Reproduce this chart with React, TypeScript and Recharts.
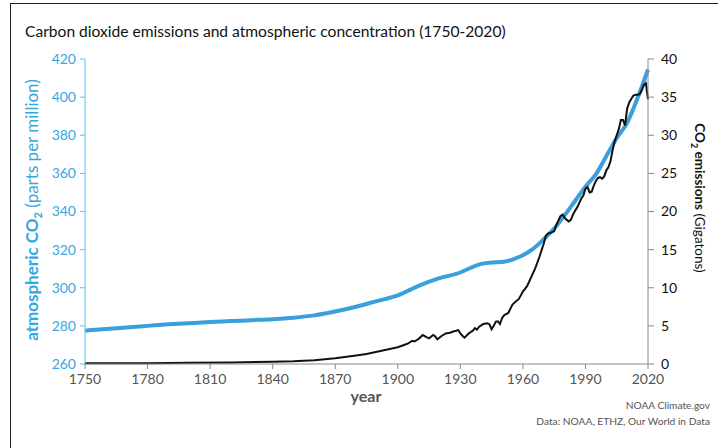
import { LineChart, Line, XAxis, YAxis } from "recharts";

const FONT = "Lato, 'DejaVu Sans', sans-serif";

// atmospheric CO2 (ppm)
const co2Years = [
  1750, 1760, 1770, 1780, 1790, 1800, 1810, 1820, 1830, 1840, 1850, 1860, 1870, 1880, 1890,
  1900, 1910, 1920, 1930, 1935, 1940, 1945, 1950, 1955, 1960, 1965, 1970, 1975, 1980, 1985,
  1990, 1995, 2000, 2005, 2010, 2015, 2020,
];
const co2Ppm = [
  277.5, 278.3, 279.2, 280, 280.8, 281.4, 282, 282.5, 283, 283.5, 284.3, 285.5, 287.5, 290, 293,
  296, 301, 305, 308, 310.5, 312.5, 313.3, 313.5, 314.8, 317, 320.5, 325.5, 331, 338, 345.5,
  353, 359.5, 369, 378.5, 386.5, 399.5, 414.5,
];

// CO2 emissions (Gt)
const emissionYears = [
  1750, 1780, 1800, 1820, 1840, 1850, 1860, 1870, 1880, 1885, 1890, 1895, 1900, 1903, 1905,
  1907, 1908, 1910, 1912, 1914, 1915, 1917, 1918, 1919, 1921, 1923, 1925, 1927, 1928, 1929,
  1930, 1931, 1932, 1934, 1936, 1937, 1938, 1939, 1941, 1943, 1944, 1945, 1946, 1947, 1948,
  1949, 1950, 1951, 1953, 1955, 1957, 1958, 1959, 1960, 1962, 1964, 1966, 1968, 1970, 1971,
  1972, 1973, 1974, 1975, 1976, 1977, 1978, 1979, 1980, 1981, 1982, 1983, 1984, 1985, 1986,
  1987, 1988, 1989, 1990, 1991, 1992, 1993, 1994, 1995, 1996, 1997, 1998, 1999, 2000, 2001,
  2002, 2003, 2004, 2005, 2006, 2007, 2008, 2009, 2010, 2011, 2012, 2013, 2014, 2015, 2016,
  2017, 2018, 2019, 2020,
];
const emissionGt = [
  0.1, 0.1, 0.15, 0.2, 0.3, 0.35, 0.5, 0.75, 1.1, 1.3, 1.6, 1.9, 2.2, 2.5, 2.7,
  3.05, 2.95, 3.3, 3.8, 3.5, 3.37, 3.8, 3.6, 3.24, 3.67, 4.0, 4.1, 4.3, 4.37, 4.45,
  4.0, 3.7, 3.45, 4.0, 4.37, 4.7, 4.5, 4.9, 5.24, 5.35, 5.2, 4.55, 5.0, 5.55, 5.6,
  5.24, 6.0, 6.4, 6.7, 7.8, 8.3, 8.5, 9.0, 9.5, 10.2, 11.4, 12.6, 14.1, 15.8, 16.8,
  17.1, 17.2, 17.3, 17.4, 18.2, 18.8, 19.4, 19.6, 19.2, 18.9, 18.7, 18.9, 19.6, 20.1, 20.5,
  21.1, 21.7, 22.1, 23.0, 23.2, 22.5, 22.6, 23.4, 24.0, 24.4, 24.5, 24.3, 24.6, 25.4, 25.8,
  26.6, 28.0, 29.2, 30.0, 30.8, 32.0, 32.0, 31.3, 33.5, 34.3, 34.8, 35.2, 35.3, 35.3, 35.4,
  35.9, 36.6, 36.8, 34.7,
];

const xTicks = [1750, 1780, 1810, 1840, 1870, 1900, 1930, 1960, 1990, 2020];
const ppmTicks = [260, 280, 300, 320, 340, 360, 380, 400, 420];
const gtTicks = [0, 5, 10, 15, 20, 25, 30, 35, 40];

const allYears = Array.from(new Set([...co2Years, ...emissionYears])).sort((a, b) => a - b);
const data = allYears.map((year) => {
  const i = co2Years.indexOf(year);
  const j = emissionYears.indexOf(year);
  return {
    year,
    ppm: i >= 0 ? co2Ppm[i] : null,
    gt: j >= 0 ? emissionGt[j] : null,
  };
});

const BLUE = "#3b9fdc";
const BLUE_TEXT = "#35a8e2";
const GREY = "#8a8a8a";

export default function App() {
  return (
    <div
      style={{
        position: "absolute",
        left: 0,
        top: 0,
        width: 718,
        height: 448,
        background: "#fff",
        fontFamily: FONT,
      }}
    >
      <div
        style={{
          position: "absolute",
          left: 10,
          top: 3,
          right: 0,
          bottom: 0,
          borderTop: "1.5px solid #222",
          borderLeft: "1.5px solid #222",
        }}
      />
      <LineChart
        width={718}
        height={448}
        data={data}
        margin={{ top: 59, right: 30, bottom: 54, left: 35 }}
        style={{ position: "absolute", left: 0, top: 0 }}
      >
        <XAxis
          dataKey="year"
          type="number"
          domain={[1750, 2020]}
          ticks={xTicks}
          height={30}
          tickSize={5}
          tickMargin={5}
          stroke={GREY}
          tick={{ fill: "#555", fontSize: 14 }}
        />
        <YAxis
          yAxisId="ppm"
          orientation="left"
          domain={[260, 420]}
          ticks={ppmTicks}
          width={50}
          tickSize={5}
          tickMargin={4}
          stroke="#5cc3f0"
          tick={{ fill: BLUE_TEXT, fontSize: 14 }}
        />
        <YAxis
          yAxisId="gt"
          orientation="right"
          domain={[0, 40]}
          ticks={gtTicks}
          width={40}
          tickSize={6}
          tickMargin={7}
          stroke={GREY}
          tick={{ fill: "#111", fontSize: 14 }}
        />
        <Line
          yAxisId="ppm"
          dataKey="ppm"
          type="monotone"
          stroke={BLUE}
          strokeWidth={4}
          dot={false}
          connectNulls
          isAnimationActive={false}
        />
        <Line
          yAxisId="gt"
          dataKey="gt"
          type="linear"
          stroke="#111"
          strokeWidth={2}
          dot={false}
          connectNulls
          isAnimationActive={false}
        />
      </LineChart>
      <svg
        width={718}
        height={448}
        style={{ position: "absolute", left: 0, top: 0, pointerEvents: "none" }}
      >
        <text x={25} y={37} fontSize={15.6} fill="#111">
          Carbon dioxide emissions and atmospheric concentration (1750-2020)
        </text>
        <text
          transform="translate(38,210) rotate(-90)"
          textAnchor="middle"
          fontSize={17}
          fill={BLUE_TEXT}
        >
          <tspan fontWeight="bold">atmospheric CO</tspan>
          <tspan fontWeight="bold" fontSize={11} dy={4}>2</tspan>
          <tspan dy={-4}> (parts per million)</tspan>
        </text>
        <text
          transform="translate(695,198) rotate(90)"
          textAnchor="middle"
          fontSize={13.5}
          fill="#111"
        >
          <tspan fontWeight="bold">CO</tspan>
          <tspan fontWeight="bold" fontSize={9} dy={4}>2</tspan>
          <tspan fontWeight="bold" dy={-4}> emissions</tspan>
          <tspan> (Gigatons)</tspan>
        </text>
        <text x={366} y={402} textAnchor="middle" fontSize={16} fontWeight="bold" fill="#555">
          year
        </text>
        <text x={710} y={409} textAnchor="end" fontSize={10.2} fill="#555">
          NOAA Climate.gov
        </text>
        <text x={710} y={425} textAnchor="end" fontSize={10.2} fill="#555">
          Data: NOAA, ETHZ, Our World in Data
        </text>
      </svg>
    </div>
  );
}
